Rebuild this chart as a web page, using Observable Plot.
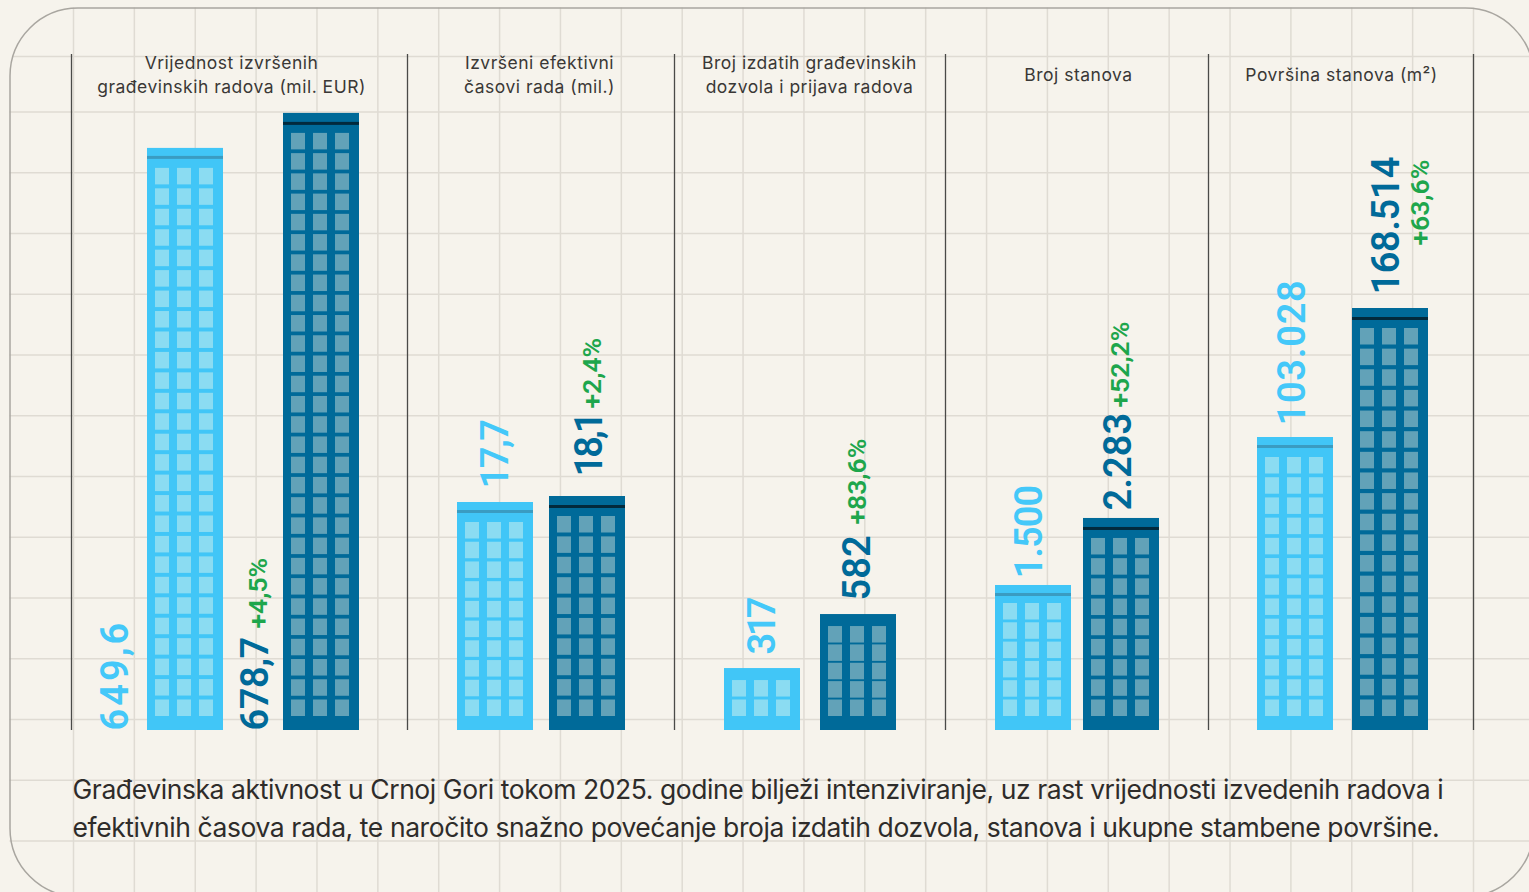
<!DOCTYPE html>
<html lang="sr">
<head>
<meta charset="utf-8">
<style>
html,body{margin:0;padding:0;background:#f6f3ec;overflow:hidden}
</style>
<script src="https://cdn.jsdelivr.net/npm/d3@7"></script>
<script src="https://cdn.jsdelivr.net/npm/@observablehq/plot@0.6"></script>
</head>
<body>
<script>
// ---- data ----
const metricTitles = [
  "Vrijednost izvršenih\ngrađevinskih radova (mil. EUR)",
  "Izvršeni efektivni\nčasovi rada (mil.)",
  "Broj izdatih građevinskih\ndozvola i prijava radova",
  "Broj stanova",
  "Površina stanova (m²)"
];
const previousValues = [649.6, 17.7, 317, 1500, 103028];
const currentValues = [678.7, 18.1, 582, 2283, 168514];
const previousLabels = ["649,6", "17,7", "317", "1.500", "103.028"];
const currentLabels = ["678,7", "18,1", "582", "2.283", "168.514"];
const changeLabels = ["+4,5%", "+2,4%", "+83,6%", "+52,2%", "+63,6%"];
const captionText = "Građevinska aktivnost u Crnoj Gori tokom 2025. godine bilježi intenziviranje, uz rast vrijednosti izvedenih radova i\nefektivnih časova rada, te naročito snažno povećanje broja izdatih dozvola, stanova i ukupne stambene površine.";

// ---- per-panel truncated axes: [value at ground, drawn units per value] ----
const panelBase = [165.6, 2.5, 13, -194, -45700];
const panelUnit = [1.2027, 15, 0.2038, 0.0856, 0.00197];

// ---- layout ----
const W = 1529, H = 892, ground = 730;
const separators = [71, 407, 674, 945, 1208, 1473];
const titleCentres = [231, 539, 809, 1078, 1341];
const prevLeft = [147, 457, 724, 995, 1257];
const currLeft = [283, 549, 820, 1083, 1352];
const barWidth = 76;
const prevLabelDx = [-70, 0, 0, -4, -3];      // from bar centre
const currLabelDx = [-66, 2, -1, -3, -4];
const prevLabelLift = [null, 14, 14, 7, 12];  // above roof
const currLabelLift = [null, 20, 14, 8, 14];
const changeDx = [-63, 5, -1, -1, 30];
const changeGap = [0, 6, 16, 11, -85];        // above value label
const labelLen = [100, 62, 60, 92, 134];      // rough rendered length of value labels
const prevTrack = [3, -1.5, -3.5, -1, 0.7];   // letter-spacing of value labels
const currTrack = [-0.5, -3, 0, 0, -0.5];

const fromTop = py => ground - py; // page row -> y units
const gridX = d3.range(0, 24).map(i => 73 + i * 60.87);
const gridY = [56, 111.5, 172.25, 233, 293.75, 354.5, 415.25, 476, 536.75, 597.5, 658.25, 719, 779.75, 840.5];
const cornerX = py => {
  const r = 68, cy = 7.5 + r;
  return py < cy ? 9.5 + r - Math.sqrt(r * r - (cy - py) ** 2) : 9.5;
};

const heightOf = (v, i) => (v - panelBase[i]) * panelUnit[i];
const buildings = [];
previousValues.forEach((v, i) => buildings.push({panel: i, kind: "prev", left: prevLeft[i], h: heightOf(v, i), label: previousLabels[i]}));
currentValues.forEach((v, i) => buildings.push({panel: i, kind: "curr", left: currLeft[i], h: heightOf(v, i), label: currentLabels[i]}));

const colours = {
  prev: {body: "#41c6f7", band: "#3a9cc2", win: "#8bdcf2", text: "#44c8f9"},
  curr: {body: "#006a99", band: "#022a3d", win: "#62a2b8", text: "#006a99"}
};

const hasRoof = b => b.h > 130;
const roofBands = buildings.filter(hasRoof).map(b => {
  const off = b.kind === "prev" ? 8 : 9;
  return {...b, y2: b.h - off, y1: b.h - off - 3};
});
const windows = [];
for (const b of buildings) {
  const pad = hasRoof(b) ? (b.h > 200 ? 20 : 18) : 12;
  const n = Math.round((b.h - 14 - pad + 3) / 20.3);
  const pitch = (b.h - 14 - 16.5 - pad) / (n - 1);
  for (let r = 0; r < n; r++) for (const c of [8, 30, 52]) {
    const bottom = 14 + r * pitch;
    windows.push({kind: b.kind, x1: b.left + c, x2: b.left + c + 14, y1: bottom, y2: bottom + 16.5});
  }
}

const valueLabels = buildings.map(b => {
  const i = b.panel, prev = b.kind === "prev";
  const lift = (prev ? prevLabelLift : currLabelLift)[i];
  return {
    kind: b.kind, text: b.label,
    track: (prev ? prevTrack : currTrack)[i],
    x: b.left + barWidth / 2 + (prev ? prevLabelDx : currLabelDx)[i],
    y: lift === null ? 0 : b.h + lift
  };
});
const changeMarks = changeLabels.map((t, i) => {
  const b = buildings.find(d => d.panel === i && d.kind === "curr");
  const base = i === 0 ? 2 : b.h + currLabelLift[i];
  return {text: t, x: b.left + barWidth / 2 + changeDx[i], y: base + labelLen[i] + changeGap[i]};
});

const chart = Plot.plot({
  width: W, height: H,
  marginTop: 0, marginRight: 0, marginBottom: 0, marginLeft: 0,
  x: {domain: [0, W], range: [0, W], axis: null},
  y: {domain: [ground - H, ground], range: [H, 0], axis: null},
  style: {background: "#f6f3ec", overflow: "hidden"},
  marks: [
    Plot.ruleX(gridX, {y1: fromTop(7.5), y2: fromTop(H), stroke: "#dfdbd3", strokeWidth: 1.5}),
    Plot.ruleY(gridY.map(fromTop), {x1: d => cornerX(ground - d), x2: W, stroke: "#dfdbd3", strokeWidth: 1.5}),
    Plot.frame({stroke: "#a9a6a0", strokeWidth: 1.5, rx: 68, insetLeft: 9.5, insetTop: 7.5, insetRight: -4, insetBottom: -4}),
    Plot.ruleX(separators, {y1: fromTop(54), y2: 0, stroke: "#4a4a48", strokeWidth: 1.3}),
    Plot.rectY(buildings, {x1: "left", x2: d => d.left + barWidth, y1: 0, y2: "h", fill: d => colours[d.kind].body}),
    Plot.rect(roofBands, {x1: "left", x2: d => d.left + barWidth, y1: "y1", y2: "y2", fill: d => colours[d.kind].band}),
    Plot.rect(windows, {x1: "x1", x2: "x2", y1: "y1", y2: "y2", fill: d => colours[d.kind].win}),
    Plot.text(metricTitles, {
      x: (d, i) => titleCentres[i], y: fromTop(73), text: d => d,
      fontFamily: "Inter", fontSize: 17.5, fontWeight: 400, fill: "#3a3836", lineHeight: 1.38
    }),
    Plot.text(valueLabels, {
      x: "x", y: "y", text: "text", rotate: -90, textAnchor: "start",
      fill: d => colours[d.kind].text, fontFamily: "Roboto", fontSize: 38, fontWeight: 600
    }),
    Plot.text(changeMarks, {
      x: "x", y: "y", text: "text", rotate: -90, textAnchor: "start",
      fill: "#1ea64c", fontFamily: "Roboto", fontSize: 26.5, fontWeight: 600
    }),
    Plot.text([captionText], {
      x: 72, y: fromTop(805.5), text: d => d, textAnchor: "start",
      fontFamily: "Inter", fontSize: 26.5, fontWeight: 400, fill: "#2e2c2a", lineHeight: 1.434
    })
  ]
});
// text marks, in the order above: titles, value labels, changes, caption
const textGroups = d3.select(chart).selectAll('g[aria-label="text"]').nodes();
d3.select(textGroups[0]).selectAll("text").style("letter-spacing", "0.5px");
d3.select(textGroups[1]).selectAll("text").style("letter-spacing", (d, i) => valueLabels[i].track + "px");
d3.select(textGroups[3]).selectAll("text").style("letter-spacing", "-0.42px");
document.body.appendChild(chart);
</script>
</body>
</html>
